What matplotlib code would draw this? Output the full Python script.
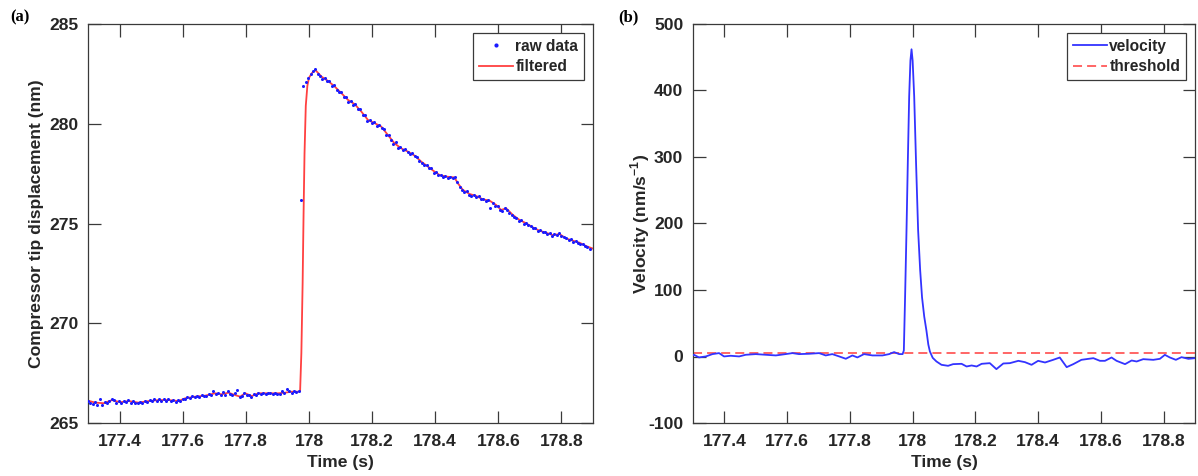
import numpy as np
import matplotlib
matplotlib.use("Agg")
import matplotlib.pyplot as plt
from matplotlib.ticker import FuncFormatter, MultipleLocator

# ---------------- data ----------------
# raw displacement samples (nm), uniform sampling from raw_t0 with step raw_dt (s)
raw_t0 = 177.3
raw_dt = 0.0075
raw_y = [
    266.10, 266.02, 265.95, 266.05, 265.92, 266.18, 265.88, 266.05, 266.00, 266.12,
    266.20, 266.15, 266.00, 266.08, 265.98, 266.10, 266.05, 266.15, 266.02, 266.08,
    265.98, 266.00, 266.05, 265.98, 266.12, 266.05, 266.15, 266.08, 266.18, 266.10,
    266.20, 266.12, 266.18, 266.10, 266.20, 266.08, 266.15, 266.05, 266.14, 266.10,
    266.22, 266.18, 266.30, 266.25, 266.34, 266.28, 266.36, 266.30, 266.38, 266.33,
    266.35, 266.45, 266.40, 266.58, 266.45, 266.52, 266.40, 266.55, 266.42, 266.60,
    266.47, 266.38, 266.50, 266.65, 266.28, 266.35, 266.50, 266.42, 266.38, 266.32,
    266.45, 266.40, 266.52, 266.45, 266.50, 266.46, 266.52, 266.48, 266.45, 266.52,
    266.47, 266.44, 266.60, 266.50, 266.68, 266.58, 266.50, 266.62, 266.55, 266.60,
    276.20, 281.90, 282.10, 282.30, 282.50, 282.62, 282.72, 282.50, 282.38, 282.25,
    282.30, 282.12, 282.15, 281.88, 281.95, 281.70, 281.60, 281.58, 281.35, 281.35,
    281.10, 281.15, 280.95, 280.98, 280.75, 280.72, 280.45, 280.42, 280.15, 280.20,
    280.02, 280.08, 279.90, 279.95, 279.80, 279.75, 279.45, 279.42, 279.18, 279.00,
    279.10, 278.80, 278.85, 278.70, 278.72, 278.60, 278.50, 278.52, 278.38, 278.32,
    278.15, 278.05, 277.92, 277.95, 277.78, 277.80, 277.55, 277.60, 277.42, 277.45,
    277.32, 277.40, 277.30, 277.35, 277.28, 277.32, 277.10, 276.82, 276.68, 276.60,
    276.62, 276.45, 276.40, 276.45, 276.32, 276.38, 276.22, 276.25, 276.15, 276.20,
    275.80, 276.05, 275.90, 275.90, 275.68, 275.62, 275.78, 275.70, 275.55, 275.45,
    275.35, 275.30, 275.12, 275.18, 275.00, 275.05, 274.90, 274.85, 274.75, 274.78,
    274.62, 274.65, 274.55, 274.58, 274.45, 274.50, 274.38, 274.45, 274.42, 274.52,
    274.38, 274.30, 274.28, 274.15, 274.20, 274.08, 274.12, 274.02, 273.95, 273.98,
    273.85, 273.80, 273.70,
]

# filtered displacement (nm)
filt_t = [
    177.300, 177.323, 177.350, 177.376, 177.402, 177.429, 177.460, 177.492, 177.524,
    177.555, 177.587, 177.608, 177.640, 177.671, 177.703, 177.724, 177.745, 177.766,
    177.782, 177.798, 177.819, 177.840, 177.872, 177.903, 177.924, 177.946, 177.967,
    177.972, 177.976, 177.980, 177.983, 177.986, 177.990, 177.995, 178.000, 178.010,
    178.0205, 178.040, 178.061, 178.082, 178.103, 178.124, 178.145, 178.166, 178.187,
    178.208, 178.229, 178.250, 178.271, 178.292, 178.314, 178.335, 178.356, 178.377,
    178.398, 178.414, 178.435, 178.461, 178.472, 178.488, 178.509, 178.530, 178.551,
    178.572, 178.593, 178.609, 178.625, 178.646, 178.667, 178.688, 178.709, 178.730,
    178.751, 178.772, 178.794, 178.815, 178.836, 178.857, 178.878, 178.900,
]
filt_y = [
    266.12, 266.02, 265.99, 266.15, 266.04, 266.10, 266.02, 266.10, 266.15,
    266.15, 266.10, 266.24, 266.32, 266.37, 266.49, 266.44, 266.52, 266.40,
    266.32, 266.49, 266.35, 266.49, 266.49, 266.49, 266.52, 266.57, 266.57,
    266.60, 268.50, 272.00, 275.50, 278.50, 280.90, 281.90, 282.30, 282.55,
    282.69, 282.36, 282.14, 281.86, 281.53, 281.19, 280.98, 280.61, 280.19,
    280.03, 279.86, 279.44, 279.02, 278.77, 278.60, 278.40, 278.10, 277.85,
    277.60, 277.43, 277.35, 277.31, 277.01, 276.68, 276.48, 276.38, 276.21,
    276.15, 275.93, 275.68, 275.76, 275.43, 275.18, 275.01, 274.81, 274.64,
    274.54, 274.42, 274.47, 274.25, 274.14, 274.04, 273.87, 273.74,
]

# velocity (nm/s^-1)
vel_t = [
    177.300, 177.303, 177.319, 177.341, 177.362, 177.383, 177.399, 177.420, 177.447,
    177.468, 177.500, 177.532, 177.564, 177.595, 177.617, 177.638, 177.670, 177.702,
    177.723, 177.744, 177.766, 177.787, 177.808, 177.824, 177.845, 177.872, 177.904,
    177.925, 177.941, 177.957, 177.968, 177.972, 177.976, 177.9805, 177.985, 177.989,
    177.993, 177.9965, 178.000, 178.005, 178.011, 178.0175, 178.024, 178.030, 178.037,
    178.044, 178.050, 178.055, 178.064, 178.076, 178.092, 178.113, 178.129, 178.156,
    178.172, 178.188, 178.204, 178.220, 178.246, 178.267, 178.289, 178.310, 178.337,
    178.358, 178.379, 178.400, 178.422, 178.448, 178.469, 178.491, 178.512, 178.538,
    178.576, 178.597, 178.613, 178.634, 178.650, 178.677, 178.698, 178.714, 178.735,
    178.767, 178.788, 178.804, 178.820, 178.839, 178.857, 178.879, 178.900,
]
vel_v = [
    2.0, 2.6, -1.4, 0.1, 3.6, 5.1, 0.1, 1.1, 0.1,
    2.6, 3.6, 2.6, 1.6, 3.6, 5.1, 3.6, 4.1, 5.1,
    1.6, 3.6, 0.1, -3.4, 1.6, -1.4, 3.6, 1.6, 1.6,
    3.6, 6.6, 3.6, 3.6, 9.0, 90.0, 190.0, 300.0, 391.0,
    445.0, 462.0, 445.0, 391.0, 290.0, 190.0, 130.0, 89.0, 60.0,
    39.0, 18.0, 7.6, -2.0, -7.5, -12.5, -14.0, -11.5, -11.0,
    -15.0, -13.5, -15.0, -11.0, -10.0, -19.0, -10.5, -10.0, -6.5,
    -8.5, -12.5, -6.5, -9.0, -5.0, -1.5, -16.0, -11.5, -5.0,
    -2.5, -6.5, -6.5, -1.5, -6.5, -11.5, -6.0, -7.5, -4.0,
    -5.0, -3.5, 2.5, -1.5, -5.0, -1.0, -3.5, -2.5,
]
threshold = 6.0

xlim = (177.3, 178.9)
xticks = [177.4, 177.6, 177.8, 178.0, 178.2, 178.4, 178.6, 178.8]
ylim_a = (265, 285)
ylim_b = (-100, 500)

# ---------------- style ----------------
plt.rcParams['font.family'] = ['Liberation Sans', 'DejaVu Sans']
plt.rcParams['font.weight'] = 'bold'
plt.rcParams['mathtext.fontset'] = 'custom'
plt.rcParams['mathtext.bf'] = 'Liberation Sans:bold'
plt.rcParams['mathtext.rm'] = 'Liberation Sans:bold'
plt.rcParams['axes.unicode_minus'] = False

TXT = '#262626'
EDGE = '#3a3a3a'
FS = 12.6

fig = plt.figure(figsize=(11.98, 4.76), dpi=100)
axA = fig.add_axes([88 / 1198, 1 - 423 / 476, (593 - 88) / 1198, (423 - 24) / 476])
axB = fig.add_axes([693 / 1198, 1 - 423 / 476, (1195 - 693) / 1198, (423 - 24) / 476])

fmt = FuncFormatter(lambda v, p: f'{v:g}')


def style(ax):
    ax.set_xlim(*xlim)
    ax.set_xticks(xticks)
    ax.xaxis.set_major_formatter(fmt)
    ax.yaxis.set_major_formatter(fmt)
    ax.tick_params(direction='in', length=9, width=0.9, color=EDGE,
                   top=True, right=True, labelsize=FS, labelcolor=TXT)
    ax.tick_params(axis='x', pad=8)
    ax.tick_params(axis='y', pad=7)
    for lab in ax.get_xticklabels() + ax.get_yticklabels():
        lab.set_fontweight('bold')
    for s in ax.spines.values():
        s.set_color(EDGE)
        s.set_linewidth(0.9)


leg_kw = dict(loc='upper right', frameon=True, fancybox=False, framealpha=1,
              edgecolor=EDGE, handlelength=2.2, handletextpad=0.15,
              borderpad=0.4, labelspacing=0.35, borderaxespad=0.55,
              prop={'size': 11.2, 'weight': 'bold'})

# panel (a)
raw_t = raw_t0 + raw_dt * np.arange(len(raw_y))
axA.plot(raw_t, raw_y, linestyle='none', marker='o', markersize=2.2,
         markeredgewidth=0, color=(0.1, 0.1, 1.0), label='raw data', zorder=3)
axA.plot(filt_t, filt_y, color=(1.0, 0.25, 0.25), linewidth=1.3,
         label='filtered', zorder=2)
axA.set_ylim(*ylim_a)
axA.yaxis.set_major_locator(MultipleLocator(5))
style(axA)
axA.set_xlabel('Time (s)', fontsize=FS, fontweight='bold', color=TXT, labelpad=4)
axA.set_ylabel('Compressor tip displacement (nm)', fontsize=FS,
               fontweight='bold', color=TXT)
axA.yaxis.set_label_coords(-0.087, 0.5)
legA = axA.legend(numpoints=1, **leg_kw)
legA.get_frame().set_linewidth(0.9)
for t in legA.get_texts():
    t.set_color(TXT)
legA.legend_handles[0].set_markersize(3)

# panel (b)
axB.plot(vel_t, vel_v, color=(0.2, 0.2, 1.0), linewidth=1.3, label='velocity', zorder=3)
axB.axhline(threshold, color=(1.0, 0.35, 0.35), linewidth=1.3,
            dashes=(5.0, 2.8), label='threshold', zorder=2)
axB.set_ylim(*ylim_b)
axB.yaxis.set_major_locator(MultipleLocator(100))
style(axB)
axB.set_xlabel('Time (s)', fontsize=FS, fontweight='bold', color=TXT, labelpad=4)
axB.set_ylabel(r'Velocity (nm/s$^{\mathbf{-1}}$)', fontsize=FS,
               fontweight='bold', color=TXT)
axB.yaxis.set_label_coords(-0.082, 0.5)
legB = axB.legend(**leg_kw)
legB.get_frame().set_linewidth(0.9)
for t in legB.get_texts():
    t.set_color(TXT)

# panel letters
fig.text(10 / 1198, 1 - 17 / 476, '(a)', fontsize=12, fontweight='bold',
         family=['Liberation Serif', 'DejaVu Serif'], va='center', ha='left', color='black')
fig.text(618 / 1198, 1 - 17 / 476, '(b)', fontsize=12, fontweight='bold',
         family=['Liberation Serif', 'DejaVu Serif'], va='center', ha='left', color='black')

fig.savefig('out.png', dpi=100)
